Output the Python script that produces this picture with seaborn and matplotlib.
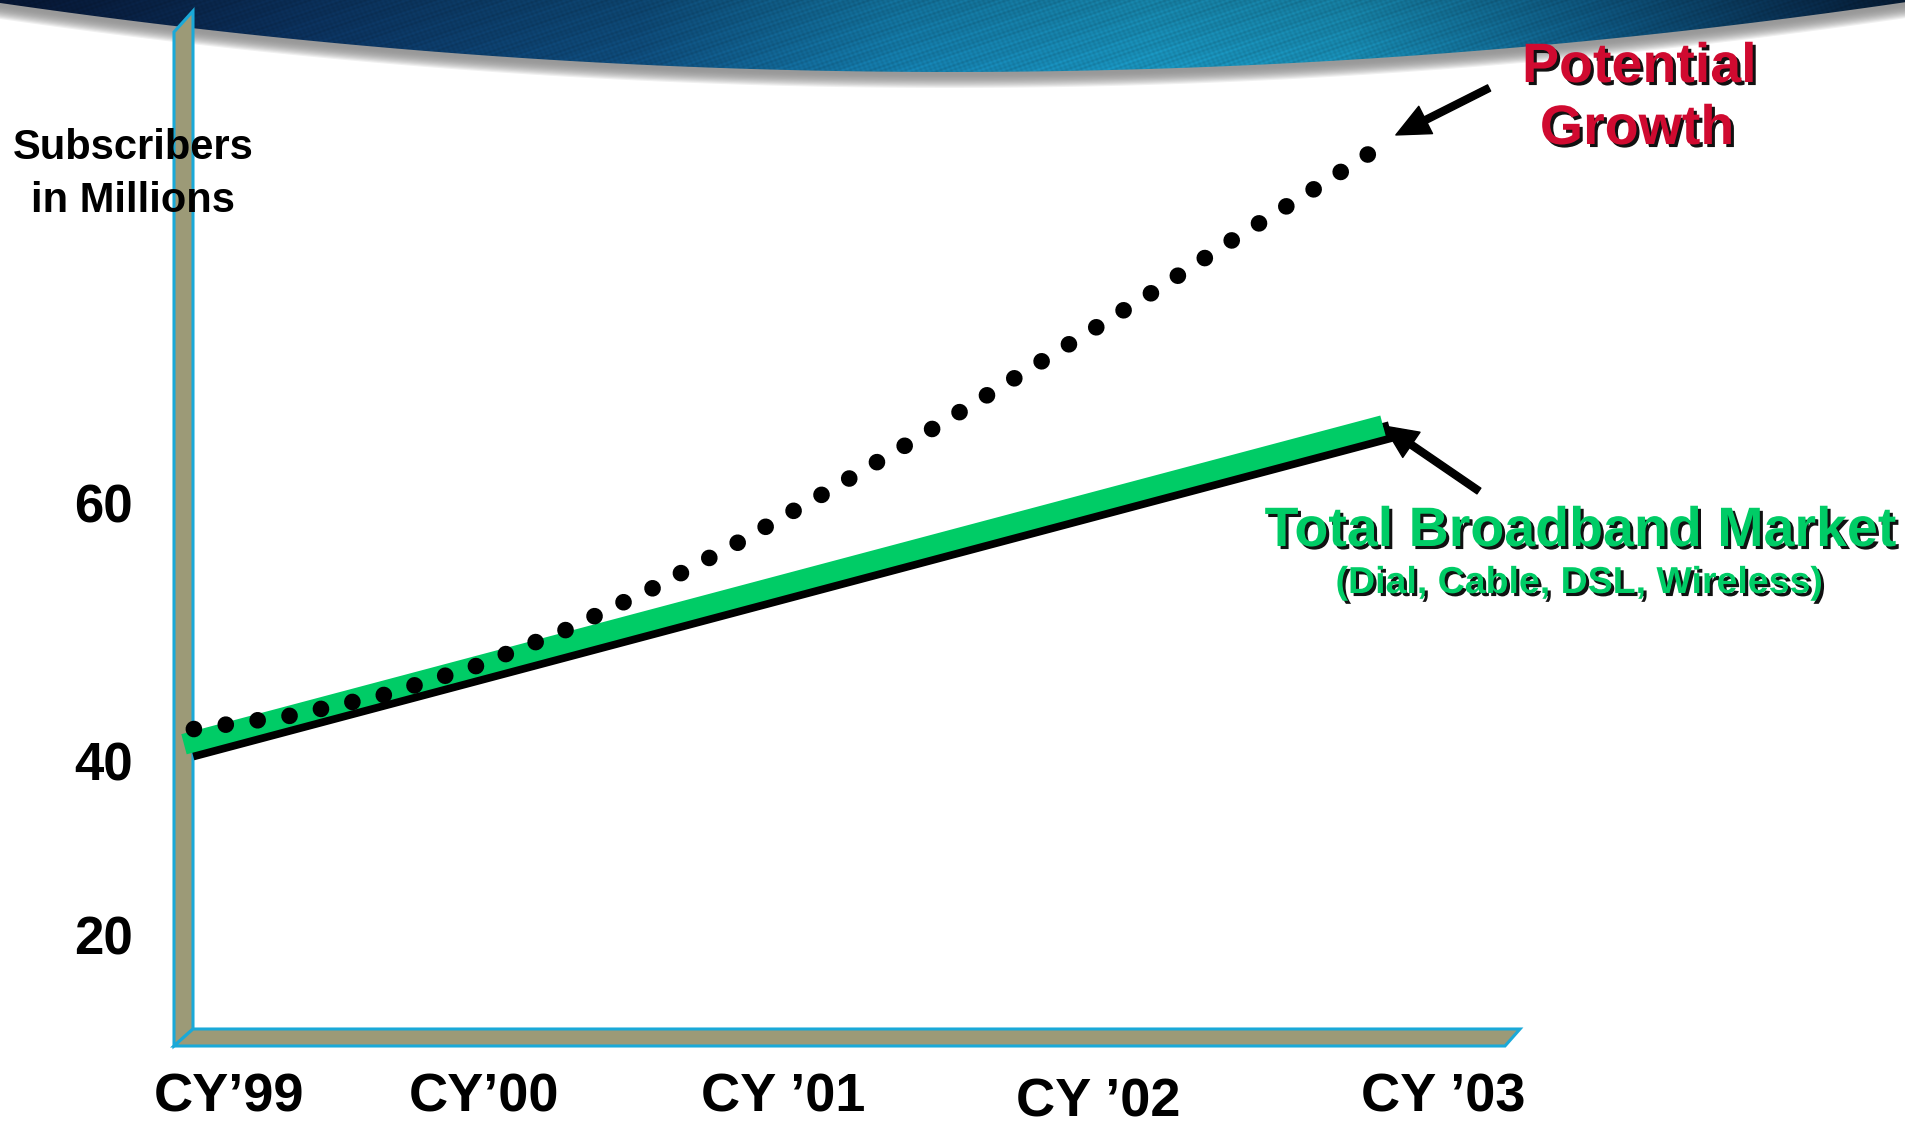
import numpy as np
import matplotlib
matplotlib.use("Agg")
import matplotlib.pyplot as plt
import matplotlib.patheffects as pe
from matplotlib.patches import Polygon
import seaborn as sns

# ---- data -------------------------------------------------------------
years_total = [1999.0, 2003.0]
total_broadband = [41.3, 66.0]

growth_years = [1999.033, 1999.350, 1999.667, 1999.974, 2000.274, 2000.565,
                2000.852, 2001.132, 2001.409, 2001.686, 2001.959, 2002.233,
                2002.503, 2002.776, 2002.957]
potential_growth = [42.48, 43.49, 45.12, 47.36, 50.16, 53.41, 56.98, 60.70,
                    64.50, 68.45, 72.40, 76.36, 80.47, 84.42, 87.13]

year_ticks = [1999.15, 2000.0, 2001.0, 2002.05, 2003.2]
year_labels = ["CY\u201999", "CY\u201900", "CY \u201901", "CY \u201902", "CY \u201903"]
subscriber_ticks = [20, 40, 60]
subscriber_labels = ["20", "40", "60"]

# ---- style ------------------------------------------------------------
sns.set_theme(style="white")
plt.rcParams["font.family"] = ["Liberation Sans", "DejaVu Sans"]

GREEN = "#00cc66"
RED = "#d00a30"
OLIVE = "#9c9a77"
CYAN = "#1aa9d8"

W, H = 1925, 1125
fig = plt.figure(figsize=(W / 100, H / 100), dpi=100)
fig.patch.set_facecolor("white")

# background layer in pixel units (banner + 3-D axis walls)
bg = fig.add_axes([0, 0, 1, 1], zorder=0)
bg.set_xlim(0, W)
bg.set_ylim(H, 0)
bg.axis("off")

xs = np.linspace(0, 1905, 500)
edge = np.clip(72 - 7.65e-5 * (xs - 950) ** 2, 0, None)

# soft grey drop shadow under the banner
n_sh = 14
for i in range(n_sh, 0, -1):
    t = i / n_sh
    g = 0.60 + 0.40 * t ** 2.2
    off = 1.15 * i + 1
    poly = np.vstack([np.column_stack([xs, np.zeros_like(xs)]),
                      np.column_stack([xs[::-1], (edge + off)[::-1]])])
    bg.add_patch(Polygon(poly, closed=True, facecolor=(g, g, g),
                         edgecolor="none", zorder=1))

# banner gradient with a fine woven texture
stops_x = [0, 300, 640, 900, 1150, 1350, 1600, 1800, 1925]
stops_c = ["#08193a", "#0c3564", "#0f4f80", "#157fae", "#1a95bf",
           "#1990b8", "#0f5d8a", "#0a3358", "#061a33"]
rgb = np.array([matplotlib.colors.to_rgb(c) for c in stops_c])
gx = np.arange(W)
row = np.column_stack([np.interp(gx, stops_x, rgb[:, k]) for k in range(3)])
GY, GX = np.mgrid[0:90, 0:W].astype(float)
weave = (np.sin(GX * 0.9 + GY * 0.5) * np.sin(GY * 1.1 - GX * 0.35)
         + 0.6 * np.sin(GX * 0.23 + GY * 0.71) * np.cos(GY * 0.37 + GX * 0.13))
shade = (0.84 + 0.16 * (GY / 89)) * (1 + 0.07 * weave)
img = np.clip(row[None, :, :] * shade[:, :, None], 0, 1)
im = bg.imshow(img, extent=(0, W, 90, 0), aspect="auto", zorder=2,
               interpolation="bilinear")
banner = Polygon(np.vstack([np.column_stack([xs, np.zeros_like(xs)]),
                            np.column_stack([xs[::-1], edge[::-1]])]),
                 closed=True, facecolor="none", edgecolor="none",
                 transform=bg.transData)
bg.add_patch(banner)
im.set_clip_path(banner)

# vertical wall and floor
wall = Polygon([(174, 32), (193, 11), (193, 1029), (174, 1046)], closed=True,
               facecolor=OLIVE, edgecolor=CYAN, linewidth=2.2, zorder=3)
floor = Polygon([(174, 1046), (193, 1029), (1520, 1029), (1505, 1046)],
                closed=True, facecolor=OLIVE, edgecolor=CYAN, linewidth=2.2,
                zorder=3)
bg.add_patch(wall)
bg.add_patch(floor)

# ---- data axes --------------------------------------------------------
ax = fig.add_axes([194 / W, (H - 1029) / H, (1520 - 194) / W, (1029 - 12) / H],
                  zorder=2)
ax.set_facecolor("none")
for s in ax.spines.values():
    s.set_visible(False)

k = 8.7 / 12.9


def fwd(y):
    y = np.asarray(y, dtype=float)
    return np.where(y >= 40, y, 40 - (40 - y) * k)


def inv(z):
    z = np.asarray(z, dtype=float)
    return np.where(z >= 40, z, 40 - (40 - z) / k)


ax.set_yscale("function", functions=(fwd, inv))
ax.set_xlim(1999.0334, 2003.4571)
ax.set_ylim(9.2, 98.06)

sns.lineplot(x=years_total, y=total_broadband, ax=ax, color=GREEN,
             linewidth=15, solid_capstyle="butt", clip_on=False, zorder=3,
             path_effects=[pe.SimpleLineShadow(offset=(5.5, -4.3),
                                               shadow_color="black", alpha=1),
                           pe.Normal()])
sns.lineplot(x=growth_years, y=potential_growth, ax=ax, color="black",
             linewidth=12, linestyle=(0, (0.001, 1.93)),
             dash_capstyle="round", clip_on=False, zorder=4)

ax.set_xticks(year_ticks, year_labels)
ax.set_yticks(subscriber_ticks, subscriber_labels)
ax.minorticks_off()
ax.tick_params(axis="x", length=0, pad=31, labelsize=39, labelcolor="black")
ax.tick_params(axis="y", length=0, pad=44, labelsize=38, labelcolor="black")
for lbl in ax.get_xticklabels() + ax.get_yticklabels():
    lbl.set_fontweight("bold")
ax.xaxis.get_major_ticks()[3].label1.set_y(-5 / 1017)

ax.set_ylabel("Subscribers\nin Millions", rotation=0, fontsize=30,
              fontweight="bold", ha="center", va="center",
              multialignment="center", linespacing=1.42, color="black")
ax.yaxis.set_label_coords(-0.046, 0.8405)

# callout arrows
arrow_kw = dict(facecolor="black", edgecolor="black", width=5,
                headwidth=22, headlength=24, shrink=0)
ax.annotate("", xy=(2003.043, 88.53), xytext=(2003.354, 92.17),
            arrowprops=arrow_kw, annotation_clip=False)
ax.annotate("", xy=(2003.003, 65.97), xytext=(2003.32, 60.93),
            arrowprops=arrow_kw, annotation_clip=False)

# callout labels
shadow = [pe.SimplePatchShadow(offset=(2.2, -2.2), shadow_rgbFace="#111111",
                               alpha=1), pe.Normal()]
bg.text(1639, 68, "Potential", color=RED, fontsize=40, fontweight="bold",
        ha="center", va="center", path_effects=shadow, zorder=5)
bg.text(1637, 130, "Growth", color=RED, fontsize=40, fontweight="bold",
        ha="center", va="center", path_effects=shadow, zorder=5)
bg.text(1580, 532, "Total Broadband Market", color=GREEN, fontsize=40,
        fontweight="bold", ha="center", va="center", path_effects=shadow,
        zorder=5)
bg.text(1579, 583, "(Dial, Cable, DSL, Wireless)", color=GREEN, fontsize=27,
        fontweight="bold", ha="center", va="center", path_effects=shadow,
        zorder=5)

fig.savefig("out.png", dpi=100)
